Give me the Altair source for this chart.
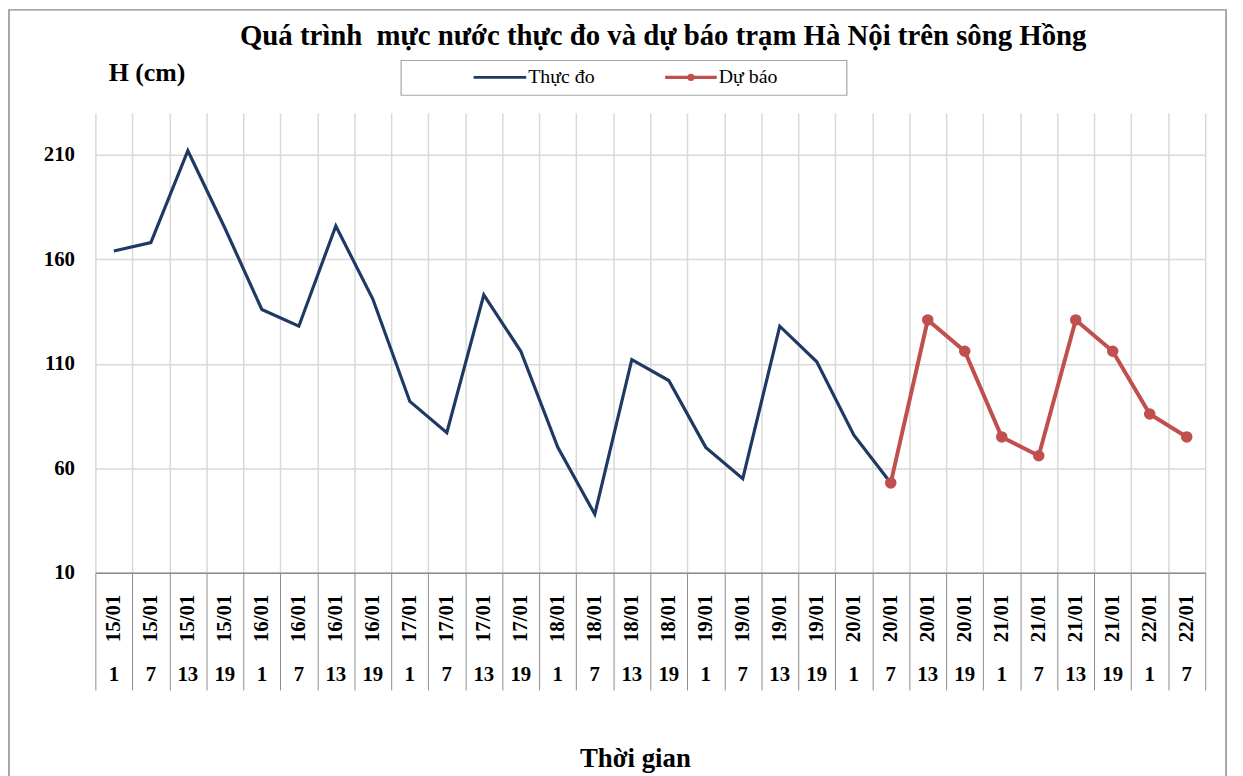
import altair as alt
import pandas as pd

# ---------------- data ----------------
dates = ["15/01", "15/01", "15/01", "15/01",
         "16/01", "16/01", "16/01", "16/01",
         "17/01", "17/01", "17/01", "17/01",
         "18/01", "18/01", "18/01", "18/01",
         "19/01", "19/01", "19/01", "19/01",
         "20/01", "20/01", "20/01", "20/01",
         "21/01", "21/01", "21/01", "21/01",
         "22/01", "22/01"]
hours = ["1", "7", "13", "19"] * 7 + ["1", "7"]

observed = [164, 168, 212, 175, 136, 128, 176, 141, 92, 77, 143, 116,
            70, 38, 112, 102, 70, 55, 128, 111, 76, 53]
forecast = [53, 131, 116, 75, 66, 131, 116, 86, 75]

series_names = ["Thực đo", "Dự báo"]
colors = ["#1F3864", "#C0504D"]
title_text = "Quá trình\u00a0 mực nước thực đo và dự báo trạm Hà Nội trên sông Hồng"
y_title = "H (cm)"
x_title = "Thời gian"
y_ticks = [10, 60, 110, 160, 210]
y_domain = [10, 230]

# ---------------- tables ----------------
keys = [f"{d} {h}" for d, h in zip(dates, hours)]
cats = pd.DataFrame({"key": keys, "date": dates, "hour": hours})
obs_df = pd.DataFrame({"key": keys[:len(observed)], "value": observed})
fc_start = len(observed) - 1
fc_df = pd.DataFrame({"key": keys[fc_start:fc_start + len(forecast)], "value": forecast})

W, H = 1118, 463
FONT = "Liberation Serif"

x_scale = alt.Scale(type="band", paddingInner=0, paddingOuter=0)
x_enc = alt.X(
    "key:N", sort=keys, scale=x_scale, title=None,
    axis=alt.Axis(labels=False, tickBand="extent", tickSize=118,
                  tickColor="#8c8c8c", tickWidth=1,
                  domainColor="#8c8c8c", domainWidth=1.5,
                  grid=True, gridColor="#d9d9d9", gridWidth=1.5),
)
x_plain = alt.X("key:N", sort=keys, scale=x_scale, title=None)
y_enc = alt.Y(
    "value:Q", scale=alt.Scale(domain=y_domain, nice=False, zero=False), title=None,
    axis=alt.Axis(values=y_ticks, domain=False, ticks=False, labelPadding=21,
                  labelFont=FONT, labelFontSize=21, labelFontWeight="bold",
                  labelColor="black", gridColor="#d9d9d9", gridWidth=1.5),
)

one = pd.DataFrame({"a": [0]})

frame = alt.Chart(one).mark_rect(fillOpacity=0, stroke="#8c8c8c", strokeWidth=1.5).encode(
    x=alt.value(-87), x2=alt.value(1139), y=alt.value(-104), y2=alt.value(690))

obs_line = alt.Chart(obs_df).mark_line(color=colors[0], strokeWidth=3.2).encode(x=x_enc, y=y_enc)
fc_line = alt.Chart(fc_df).mark_line(
    color=colors[1], strokeWidth=4,
    point=alt.OverlayMarkDef(filled=True, size=135, color=colors[1], opacity=1),
).encode(x=x_plain, y=y_enc)

date_text = alt.Chart(cats).mark_text(
    angle=270, font=FONT, fontSize=21, fontWeight="bold", color="black", baseline="middle"
).encode(x=x_plain, y=alt.value(509), text="date:N")
hour_text = alt.Chart(cats).mark_text(
    font=FONT, fontSize=21, fontWeight="bold", color="black", baseline="middle"
).encode(x=x_plain, y=alt.value(566), text="hour:N")

title = alt.Chart(pd.DataFrame({"t": [title_text]})).mark_text(
    font=FONT, fontSize=29, fontWeight="bold", color="black", baseline="middle"
).encode(x=alt.value(572), y=alt.value(-78), text="t:N")
ytitle = alt.Chart(pd.DataFrame({"t": [y_title]})).mark_text(
    font=FONT, fontSize=26, fontWeight="bold", color="black", baseline="middle"
).encode(x=alt.value(52), y=alt.value(-40), text="t:N")
xtitle = alt.Chart(pd.DataFrame({"t": [x_title]})).mark_text(
    font=FONT, fontSize=27, fontWeight="bold", color="black", baseline="middle"
).encode(x=alt.value(544), y=alt.value(651), text="t:N")

legend_box = alt.Chart(one).mark_rect(fill="white", stroke="#a6a6a6", strokeWidth=1.2).encode(
    x=alt.value(308), x2=alt.value(757), y=alt.value(-53), y2=alt.value(-18))
leg_line1 = alt.Chart(one).mark_rule(color=colors[0], strokeWidth=3).encode(
    x=alt.value(381), x2=alt.value(434), y=alt.value(-36))
leg_line2 = alt.Chart(one).mark_rule(color=colors[1], strokeWidth=3.5).encode(
    x=alt.value(574), x2=alt.value(626), y=alt.value(-36))
leg_dot = alt.Chart(one).mark_point(filled=True, size=50, color=colors[1], opacity=1).encode(
    x=alt.value(600), y=alt.value(-36))
leg_t1 = alt.Chart(pd.DataFrame({"t": [series_names[0]]})).mark_text(
    font=FONT, fontSize=20, color="black", align="left", baseline="middle"
).encode(x=alt.value(436), y=alt.value(-36), text="t:N")
leg_t2 = alt.Chart(pd.DataFrame({"t": [series_names[1]]})).mark_text(
    font=FONT, fontSize=20, color="black", align="left", baseline="middle"
).encode(x=alt.value(628), y=alt.value(-36), text="t:N")

chart = alt.layer(
    frame, obs_line, fc_line, date_text, hour_text,
    title, ytitle, xtitle,
    legend_box, leg_line1, leg_line2, leg_dot, leg_t1, leg_t2,
).properties(
    width=W, height=H,
    autosize=alt.AutoSizeParams(type="none"),
    padding={"left": 88, "top": 103, "right": 30, "bottom": 221},
    background="white",
).configure_view(stroke="transparent")

chart.save("out.html", embed_options={"renderer": "svg", "actions": False})
